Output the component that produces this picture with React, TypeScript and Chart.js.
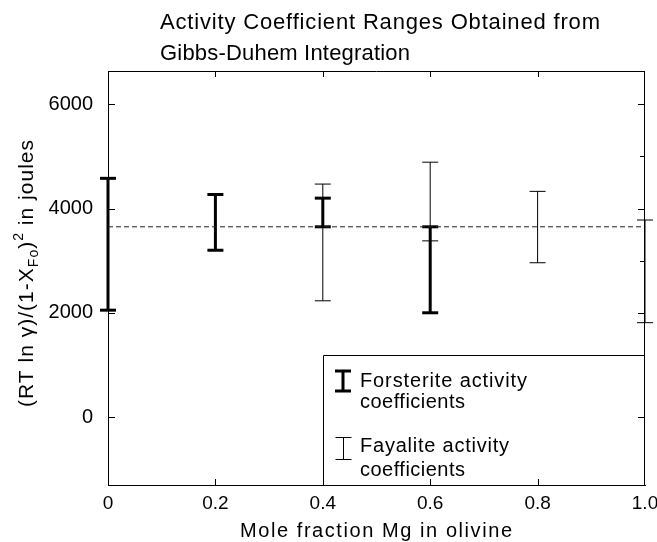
import React, { useEffect, useRef } from "react";
import { Chart, registerables } from "chart.js";

Chart.register(...registerables);

// ---- data ----
const forsteriteX = [0, 0.2, 0.4, 0.6];
const forsteriteLow = [2050, 3200, 3650, 2000];
const forsteriteHigh = [4580, 4270, 4200, 3650];

const fayaliteX = [0.4, 0.6, 0.8, 1.0];
const fayaliteLow = [2230, 3380, 2960, 1810];
const fayaliteHigh = [4470, 4890, 4330, 3780];

const meanValue = 3650;

const xTicks = [0, 0.2, 0.4, 0.6, 0.8, 1.0];
const xTickLabels = ["0", "0.2", "0.4", "0.6", "0.8", "1.0"];
const yTicks = [0, 2000, 4000, 6000];
const yTickLabels = ["0", "2000", "4000", "6000"];
const yRightMinorTicks = [3000, 5000];

const titleLines = ["Activity Coefficient Ranges Obtained from", "Gibbs-Duhem Integration"];
const xTitle = "Mole fraction Mg in olivine";
const legendLabels = [
  ["Forsterite activity", "coefficients"],
  ["Fayalite activity", "coefficients"],
];

const FONT = '"Liberation Sans", "DejaVu Sans", sans-serif';

function fitText(ctx: CanvasRenderingContext2D, text: string, x: number, y: number, width: number, size: number) {
  ctx.font = `${size}px ${FONT}`;
  (ctx as any).letterSpacing = "0px";
  const w = ctx.measureText(text).width;
  const ls = (width - w) / Math.max(1, text.length - 1);
  (ctx as any).letterSpacing = `${ls}px`;
  ctx.fillText(text, x, y);
  (ctx as any).letterSpacing = "0px";
}

const decorPlugin = {
  id: "decor",
  afterDraw(chart: any) {
    const { ctx, chartArea: ca, scales } = chart;
    const x = scales.x;
    const y = scales.y;
    ctx.save();
    ctx.strokeStyle = "#000";
    ctx.fillStyle = "#000";
    ctx.lineWidth = 1;
    // top and right frame
    ctx.beginPath();
    ctx.moveTo(ca.left, ca.top + 0.5);
    ctx.lineTo(ca.right, ca.top + 0.5);
    ctx.moveTo(ca.right - 0.5, ca.top);
    ctx.lineTo(ca.right - 0.5, ca.bottom);
    ctx.stroke();
    // inward ticks
    ctx.beginPath();
    xTicks.forEach((v) => {
      if (v <= 0 || v >= 1) return;
      const px = Math.round(x.getPixelForValue(v)) + 0.5;
      ctx.moveTo(px, ca.bottom);
      ctx.lineTo(px, ca.bottom - 6);
      ctx.moveTo(px, ca.top);
      ctx.lineTo(px, ca.top + 6);
    });
    yTicks.forEach((v) => {
      const py = Math.round(y.getPixelForValue(v)) + 0.5;
      ctx.moveTo(ca.left, py);
      ctx.lineTo(ca.left + 7, py);
      ctx.moveTo(ca.right, py);
      ctx.lineTo(ca.right - 7, py);
    });
    yRightMinorTicks.forEach((v) => {
      const py = Math.round(y.getPixelForValue(v)) + 0.5;
      ctx.moveTo(ca.right, py);
      ctx.lineTo(ca.right - 5, py);
    });
    ctx.stroke();

    // title
    ctx.textBaseline = "alphabetic";
    ctx.textAlign = "left";
    fitText(ctx, titleLines[0], 160, 29, 440, 22);
    fitText(ctx, titleLines[1], 160, 60, 250, 22);

    // x title
    fitText(ctx, xTitle, 240, 537, 272, 20);

    // y title (rotated, with sub/superscripts)
    const parts: [string, number, number][] = [
      ["(RT ln γ)/(1-X", 21, 0],
      ["Fo", 14, 5],
      [")", 21, 0],
      ["2", 14, -10],
      [" in joules", 21, 0],
    ];
    let natural = 0;
    let nChars = 0;
    parts.forEach(([t, s]) => {
      ctx.font = `${s}px ${FONT}`;
      natural += ctx.measureText(t).width;
      nChars += t.length;
    });
    const targetLen = 267;
    const ls = (targetLen - natural) / (nChars - 1);
    ctx.save();
    ctx.translate(33, 407);
    ctx.rotate(-Math.PI / 2);
    let cx = 0;
    parts.forEach(([t, s, dy]) => {
      ctx.font = `${s}px ${FONT}`;
      (ctx as any).letterSpacing = `${ls}px`;
      ctx.fillText(t, cx, dy);
      (ctx as any).letterSpacing = "0px";
      cx += ctx.measureText(t).width + ls * t.length;
    });
    ctx.restore();

    // legend
    const lx = 323;
    const ly = 355;
    ctx.lineWidth = 1;
    ctx.beginPath();
    ctx.moveTo(lx + 0.5, ca.bottom);
    ctx.lineTo(lx + 0.5, ly + 0.5);
    ctx.lineTo(ca.right, ly + 0.5);
    ctx.stroke();
    const drawI = (cxp: number, top: number, bot: number, lw: number) => {
      ctx.lineWidth = lw;
      ctx.beginPath();
      ctx.moveTo(cxp, top);
      ctx.lineTo(cxp, bot);
      ctx.moveTo(cxp - 8, top);
      ctx.lineTo(cxp + 8, top);
      ctx.moveTo(cxp - 8, bot);
      ctx.lineTo(cxp + 8, bot);
      ctx.stroke();
    };
    drawI(343, 371, 391, 3);
    drawI(343.5, 437.5, 459.5, 1);
    fitText(ctx, legendLabels[0][0], 360, 387, 167, 20);
    fitText(ctx, legendLabels[0][1], 360, 408, 105, 20);
    fitText(ctx, legendLabels[1][0], 360, 452, 149, 20);
    fitText(ctx, legendLabels[1][1], 360, 476, 105, 20);
    ctx.restore();
  },
};

function errorBarDataset(xv: number, lo: number, hi: number, thick: boolean) {
  return {
    type: "line" as const,
    data: [
      { x: xv, y: lo },
      { x: xv, y: hi },
    ],
    showLine: true,
    borderColor: "#000",
    backgroundColor: "#000",
    borderWidth: thick ? 3 : 1,
    pointStyle: "line" as const,
    pointRadius: 8,
    pointBorderWidth: thick ? 3 : 1,
    pointBorderColor: "#000",
    pointHoverRadius: 8,
    clip: false as any,
  };
}

export default function App() {
  const ref = useRef<HTMLCanvasElement | null>(null);
  useEffect(() => {
    if (!ref.current) return;
    const datasets: any[] = [
      {
        type: "line",
        data: [
          { x: 0, y: meanValue },
          { x: 1, y: meanValue },
        ],
        showLine: true,
        borderColor: "#222",
        borderWidth: 1,
        borderDash: [5, 3],
        pointRadius: 0,
      },
    ];
    forsteriteX.forEach((xv, i) => datasets.push(errorBarDataset(xv, forsteriteLow[i], forsteriteHigh[i], true)));
    fayaliteX.forEach((xv, i) => datasets.push(errorBarDataset(xv, fayaliteLow[i], fayaliteHigh[i], false)));

    const chart = new Chart(ref.current, {
      type: "scatter",
      data: { datasets },
      options: {
        animation: false,
        responsive: false,
        maintainAspectRatio: false,
        layout: { padding: { top: 71, right: 12, left: 0, bottom: 0 } },
        plugins: { legend: { display: false }, tooltip: { enabled: false }, title: { display: false } },
        scales: {
          x: {
            type: "linear",
            min: 0,
            max: 1,
            afterBuildTicks: (s: any) => {
              s.ticks = xTicks.map((v) => ({ value: v }));
            },
            afterFit: (s: any) => {
              s.height = 57;
              s.paddingLeft = 0;
              s.paddingRight = 0;
            },
            ticks: {
              callback: (v: any) => xTickLabels[xTicks.indexOf(v)] ?? "",
              font: { family: FONT, size: 19 },
              color: "#000",
              padding: 7,
              maxRotation: 0,
              autoSkip: false,
            },
            grid: { display: false, drawTicks: false },
            border: { display: true, color: "#000", width: 1 },
          },
          y: {
            type: "linear",
            min: -1305,
            max: 6640,
            afterBuildTicks: (s: any) => {
              s.ticks = yTicks.map((v) => ({ value: v }));
            },
            afterFit: (s: any) => {
              s.width = 108;
              s.paddingTop = 0;
              s.paddingBottom = 0;
            },
            ticks: {
              callback: (v: any) => yTickLabels[yTicks.indexOf(v)] ?? "",
              font: { family: FONT, size: 20 },
              color: "#000",
              padding: 15,
              autoSkip: false,
            },
            grid: { display: false, drawTicks: false },
            border: { display: true, color: "#000", width: 1 },
          },
        },
      },
      plugins: [decorPlugin],
    } as any);
    return () => chart.destroy();
  }, []);
  return (
    <div style={{ position: "absolute", left: 0, top: 0, width: 657, height: 542, background: "#fff" }}>
      <canvas ref={ref} width={657} height={542} style={{ width: 657, height: 542 }} />
    </div>
  );
}
